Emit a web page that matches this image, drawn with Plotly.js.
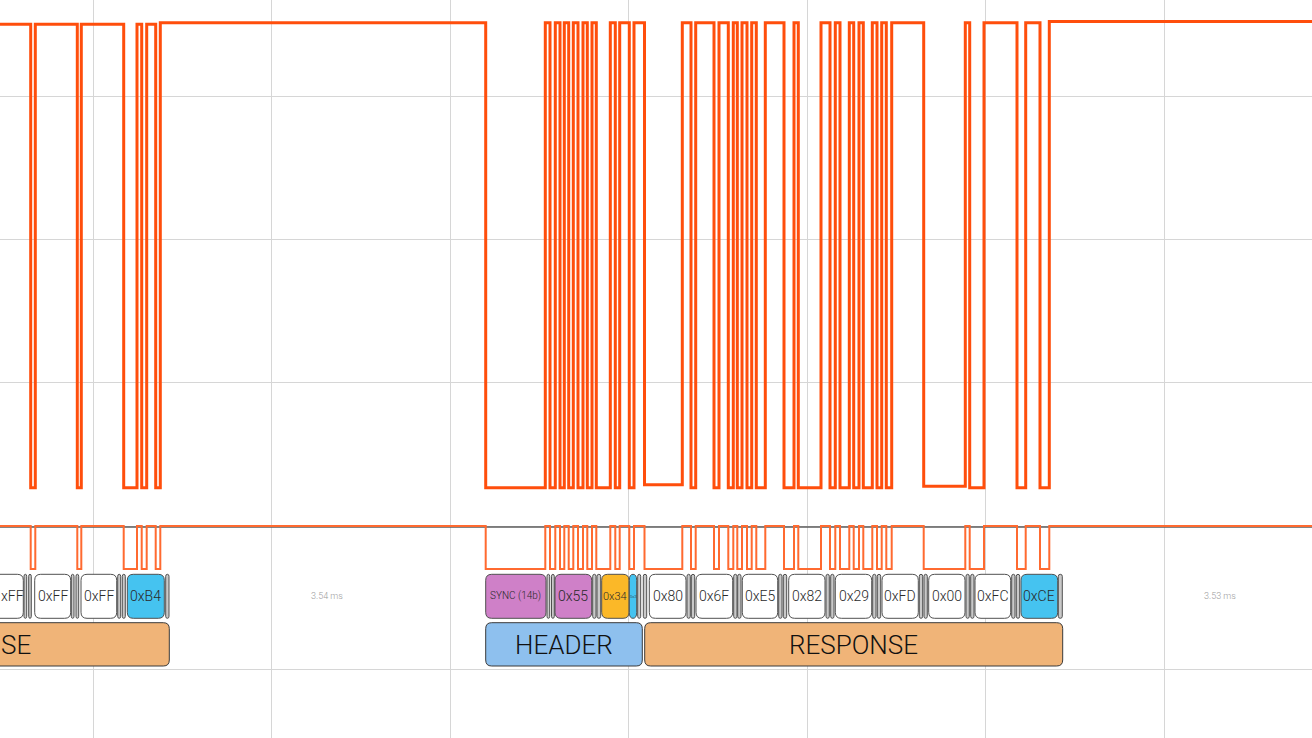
<!DOCTYPE html>
<html>
<head>
<meta charset="utf-8">
<script src="https://cdn.plot.ly/plotly-3.0.1.min.js"></script>
<style>html,body{margin:0;padding:0;background:#fff;overflow:hidden}#chart{width:1312px;height:738px}</style>
</head>
<body>
<div id="chart"></div>
<script>
// ---- DATA (time in screen-sample units, analog in V, digital 0/1) ----
const edgeTimes = [0, 30.7, 35.3, 77.3, 81.3, 123.7, 137, 141.7, 146.7, 155.7, 160.3,
  485.7, 545.3, 550, 555.3, 560, 564.3, 568.7, 573.3, 578, 583, 587.3, 592, 596.3, 610.3, 615.3, 619.7, 629.3, 634,
  644.5, 682.3, 691, 695.7, 714, 719, 728.3, 733.3, 737.3, 742, 747, 751.7, 756.3, 765.3, 784, 794, 798.3,
  821, 830, 835.3, 840, 849.3, 853.7, 859, 863.3, 872.3, 877, 881.7, 886.3, 891.7,
  923.7, 965.3, 969.7, 984, 1017, 1025.7, 1040, 1049.3, 1312];
const digitalLevels = [1, 0, 1, 0, 1, 0, 1, 0, 1, 0, 1,
  0, 1, 0, 1, 0, 1, 0, 1, 0, 1, 0, 1, 0, 1, 0, 1, 0, 1,
  0, 1, 0, 1, 0, 1, 0, 1, 0, 1, 0, 1, 0, 1, 0, 1, 0,
  1, 0, 1, 0, 1, 0, 1, 0, 1, 0, 1, 0, 1,
  0, 1, 0, 1, 0, 1, 0, 1, 1];
const analogLevels = [3.50, 0.27, 3.50, 0.27, 3.50, 0.27, 3.50, 0.27, 3.50, 0.27, 3.51,
  0.27, 3.51, 0.27, 3.51, 0.27, 3.51, 0.27, 3.51, 0.27, 3.51, 0.27, 3.51, 0.27, 3.51, 0.27, 3.51, 0.27, 3.51,
  0.29, 3.51, 0.27, 3.51, 0.27, 3.51, 0.27, 3.51, 0.27, 3.51, 0.27, 3.51, 0.27, 3.51, 0.27, 3.51, 0.27,
  3.51, 0.27, 3.51, 0.27, 3.51, 0.27, 3.51, 0.27, 3.51, 0.27, 3.51, 0.27, 3.51,
  0.28, 3.51, 0.27, 3.51, 0.27, 3.51, 0.27, 3.52, 3.52];

// decoded bytes (first one is only partly in view: its visible text is "xFF")
const byteStart = [-11.3, 34.7, 81, 127.3, 485.7, 555, 601.7, 629.3, 649.3, 696, 742.3, 788.7, 835.3, 882, 928.7, 975, 1021];
const byteEnd   = [23.3, 70.7, 116.7, 164.3, 546, 591.7, 629, 636.7, 686, 732.7, 777.7, 825, 871.7, 918.3, 965, 1010.7, 1057.7];
const byteLabels = ['xFF', '0xFF', '0xFF', '0xB4', 'SYNC (14b)', '0x55', '0x34', '0x3', '0x80', '0x6F', '0xE5', '0x82', '0x29', '0xFD', '0x00', '0xFC', '0xCE'];
const byteKinds  = ['data', 'data', 'data', 'crc', 'sync', 'sync', 'cmd', 'crc', 'data', 'data', 'data', 'data', 'data', 'data', 'data', 'data', 'crc'];

// start / stop bit markers
const bitStart = [24, 28.7, 71.3, 76, 117.7, 122.3, 165.7, 547, 551.5, 592.7, 597, 637.7, 643.3, 687, 691.3, 733.7, 737.7,
  778.7, 783.3, 826, 830.7, 872.7, 877.3, 919.3, 924, 966, 970.7, 1011.7, 1016.3, 1058.3];
const bitEnd   = [26.7, 31.3, 74, 78.7, 120.7, 125.3, 169, 549.7, 554.3, 596, 600.7, 640.7, 646.7, 690.3, 694.7, 737, 741,
  782, 786.7, 829.3, 834, 876, 880.7, 922.7, 927.3, 969.3, 974, 1015, 1019.7, 1062.3];

// packets (first one is only partly in view: its visible text is "SE")
const packetStart = [-247, 485.7, 644.7];
const packetEnd   = [169.3, 642.3, 1062.7];
const packetLabels = ['SE', 'HEADER', 'RESPONSE'];
const packetKinds  = ['response', 'header', 'response'];

// gap durations
const gapX = [327, 1220];
const gapLabels = ['3.54 ms', '3.53 ms'];

// ---- STYLE ----
const W = 1312, H = 738;
const xRange = [0, 1312];
const kindFill = {data: '#ffffff', crc: '#45c3f0', sync: '#cf80c8', cmd: '#fbb828'};
const packetFill = {header: '#8ec0ee', response: '#f0b478'};
const FONT = 'Roboto, "DejaVu Sans", sans-serif';

function py(px) { return 1 - px / H; }
function xp(x) { return (x - xRange[0]) / (xRange[1] - xRange[0]); }
function roundRect(x0, x1, top, bot, rpx, fill, lc) {
  const rx = Math.min(rpx, (x1 - x0) / 2);
  const ry = rpx / H;
  const yt = py(top), yb = py(bot);
  const p = `M ${x0 + rx},${yt} L ${x1 - rx},${yt} Q ${x1},${yt} ${x1},${yt - ry} L ${x1},${yb + ry} Q ${x1},${yb} ${x1 - rx},${yb} ` +
            `L ${x0 + rx},${yb} Q ${x0},${yb} ${x0},${yb + ry} L ${x0},${yt - ry} Q ${x0},${yt} ${x0 + rx},${yt} Z`;
  return {type: 'path', xref: 'x', yref: 'paper', path: p, fillcolor: fill, line: {color: lc, width: 1}, layer: 'above'};
}
function labelPos(x0, x1) {
  // boxes cut by the left edge show their visible text from the edge
  if (x0 < xRange[0]) return {x: xp(xRange[0]), xanchor: 'left'};
  return {x: xp((x0 + x1) / 2), xanchor: 'center'};
}

const shapes = [];
const annotations = [];
const rowTop = 574.3, rowBot = 618.3, pTop = 622.7, pBot = 666;

for (let i = 0; i < bitStart.length; i++) {
  shapes.push(roundRect(bitStart[i], bitEnd[i], rowTop, rowBot, 2, '#c9c9c9', '#505050'));
}
for (let i = 0; i < byteStart.length; i++) {
  shapes.push(roundRect(byteStart[i], byteEnd[i], rowTop, rowBot, 6, kindFill[byteKinds[i]], '#505050'));
  const w = byteEnd[i] - byteStart[i];
  let size = 14;
  if (byteLabels[i].length > 6) size = 10;
  else if (w < 12) size = 4;
  else if (w < 30) size = 11;
  const lp = labelPos(byteStart[i], byteEnd[i]);
  annotations.push({xref: 'paper', yref: 'paper', x: lp.x, xanchor: lp.xanchor, y: py((rowTop + rowBot) / 2),
    text: byteLabels[i], showarrow: false, yanchor: 'middle', borderpad: 0,
    font: {family: FONT, size: size, color: '#2a2a2a', weight: 300}});
}
for (let i = 0; i < packetStart.length; i++) {
  shapes.push(roundRect(packetStart[i], packetEnd[i], pTop, pBot, 6, packetFill[packetKinds[i]], '#3a3a3a'));
  const lp = labelPos(packetStart[i], packetEnd[i]);
  annotations.push({xref: 'paper', yref: 'paper', x: lp.x, xanchor: lp.xanchor, y: py((pTop + pBot) / 2 + 1),
    text: packetLabels[i], showarrow: false, yanchor: 'middle', borderpad: 0,
    font: {family: FONT, size: 26, color: '#111111', weight: 300}});
}
for (let i = 0; i < gapX.length; i++) {
  annotations.push({xref: 'paper', yref: 'paper', x: xp(gapX[i]), y: py(596),
    text: gapLabels[i], showarrow: false, xanchor: 'center', yanchor: 'middle',
    font: {family: FONT, size: 9, color: '#9c9c9c', weight: 300}});
}

const traces = [
  {x: xRange, y: [0.975, 0.975], yaxis: 'y2', mode: 'lines', line: {color: '#5c5c5c', width: 1.5}, hoverinfo: 'skip', showlegend: false},
  {x: edgeTimes, y: digitalLevels, yaxis: 'y2', mode: 'lines', line: {shape: 'hv', color: '#ff6a30', width: 2}, showlegend: false},
  {x: edgeTimes, y: analogLevels, mode: 'lines', line: {shape: 'hv', color: '#ff4e0c', width: 3}, showlegend: false}
];

const layout = {
  width: W, height: H,
  margin: {l: 0, r: 0, t: 0, b: 0, pad: 0},
  paper_bgcolor: '#ffffff', plot_bgcolor: '#ffffff',
  showlegend: false,
  xaxis: {range: xRange, tick0: 93, dtick: 178.5, showgrid: true, gridcolor: '#d6d6d6', gridwidth: 1,
          zeroline: false, showticklabels: false, showline: false, ticks: ''},
  yaxis: {range: [-1.474, 3.669], tick0: 0, dtick: 1, showgrid: true, gridcolor: '#d6d6d6', gridwidth: 1,
          zeroline: false, showticklabels: false, showline: false, ticks: ''},
  yaxis2: {range: [-3.930, 13.233], overlaying: 'y', showgrid: false, zeroline: false, showticklabels: false, showline: false, ticks: ''},
  shapes: shapes,
  annotations: annotations
};

Plotly.newPlot('chart', traces, layout, {staticPlot: true, displayModeBar: false});
</script>
</body>
</html>
